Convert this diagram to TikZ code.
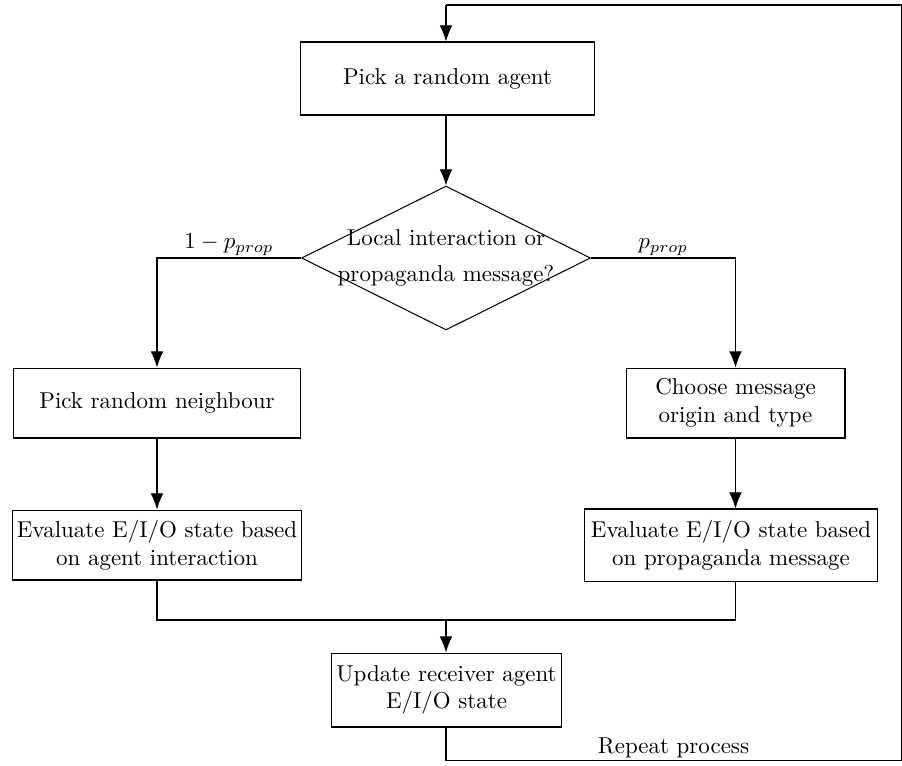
\documentclass[tikz,border=0pt]{standalone}
\usetikzlibrary{shapes.geometric,arrows.meta}
\begin{document}
\begin{tikzpicture}[x=0.0153cm,y=-0.0153cm,
  box/.style={draw,rectangle,align=center,inner sep=2pt,font=\normalsize},
  dec/.style={draw,diamond,inner sep=0pt},
  arr/.style={-{Latex[length=7pt,width=5.5pt]}},
  line width=0.45pt]
\useasboundingbox (0,0) rectangle (902,765);
\node[box,minimum width=4.498cm,minimum height=1.117cm] (top) at (447.5,78.5) {Pick a random agent};
\node[dec,minimum width=4.422cm,minimum height=2.203cm] (d) at (446,258) {};
\node[align=center] (dt) at (446,258) {Local interaction or\\[4pt]propaganda message?};
\node[box,minimum width=4.406cm,minimum height=1.071cm] (lb1) at (157,403) {Pick random neighbour};
\node[box,minimum width=4.406cm,minimum height=1.071cm] (lb2) at (157,545) {Evaluate E/I/O state based\\on agent interaction};
\node[box,minimum width=3.351cm,minimum height=1.071cm] (rb1) at (735.5,403) {Choose message\\origin and type};
\node[box,minimum width=4.498cm,minimum height=1.102cm] (rb2) at (731,545) {Evaluate E/I/O state based\\on propaganda message};
\node[box,minimum width=3.412cm,minimum height=1.132cm] (bot) at (446.5,690) {Update receiver agent\\E/I/O state};
\coordinate (m) at (446,620);
\coordinate (c1) at (446,760);
\coordinate (c2) at (901,760);
\coordinate (c3) at (901,5);
\coordinate (c4) at (446,5);
\draw[arr] (d.north |- top.south) -- (d.north);
\draw[arr] (d.west) -| node[pos=0.25,above,inner sep=1pt] {$1-p_{prop}$} (lb1.north);
\draw[arr] (d.east) -| node[pos=0.25,above,inner sep=1pt] {$p_{prop}$} (rb1.north);
\draw[arr] (lb1) -- (lb2);
\draw[arr] (rb1.south) -- (rb1.south |- rb2.north);
\draw (lb2.south) |- (m) -| (rb1.south |- rb2.south);
\draw[arr] (m) -- (m |- bot.north);
\draw (m |- bot.south) -- (c1) -- node[above,inner sep=0.5pt] {Repeat process} (c2) -- (c3) -- (c4);
\draw[arr] (c4) -- (c4 |- top.north);
\end{tikzpicture}
\end{document}
